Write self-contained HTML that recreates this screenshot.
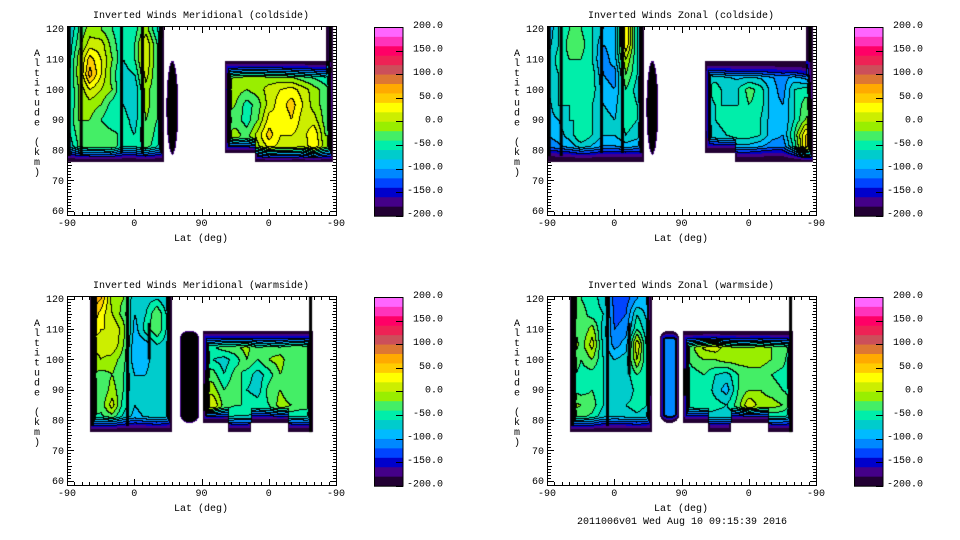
<!DOCTYPE html>
<html><head><meta charset="utf-8">
<style>
html,body{margin:0;padding:0;background:#fff;}
#wrap{position:relative;width:960px;height:540px;overflow:hidden;background:#fff;}
canvas{position:absolute;}
svg{position:absolute;left:0;top:0;}
text{font-family:"Liberation Mono",monospace;font-size:10px;fill:#000;}
</style></head>
<body>
<div id="wrap">
<svg id="svg" width="960" height="540"></svg>
</div>
<script>
// ---- data ----
const lats = [0,15,30,45,60,75,90,105,120,135,150,165,180,195,210,225,240,255,270,285,300,315,330,345,360];
const alts = [120,115,110,105,100,95,90,85,80];
const cbTicks = [200,150,100,50,0,-50,-100,-150,-200];
const cbColors = ["#220033","#440088","#0000cc","#0044ff","#0088ff","#00bbff","#00cccc","#00eeaa","#44ee66","#99ee00","#ccee00","#ffff00","#ffcc00","#ffaa00","#dd7733","#cc4f5a","#ee2255","#ff0066","#ff33bb","#ff66ff"];
const xTickLabels = ["-90","0","90","0","-90"];
const yTickLabels = [60,70,80,90,100,110,120];

const valsTL = [
[-90,-40,-10,-20,-40,-60,-50,-10,-60,-100,-100,-100,-100,-100,-100,-100,-100,-100,-100,-100,-100,-100,-100,-130,-130],
[-80,-30,10,10,-30,-60,-40,20,-40,-100,-100,-100,-100,-100,-100,-100,-100,-100,-100,-100,-100,-100,-100,-120,-120],
[-80,-10,50,20,-20,-60,-40,20,-40,-100,-100,-100,-100,-100,-60,-50,-40,-30,-30,-40,-50,-60,-70,-100,-120],
[-70,-10,70,20,-30,-70,-60,10,-40,-100,-100,-100,-100,-100,-40,-20,-10,-10,-20,-20,-30,-40,-50,-60,-80],
[-70,-20,20,0,-20,-70,-80,-10,-40,-100,-100,-100,-100,-100,10,-10,-20,-10,10,20,30,10,-10,-30,-50],
[-70,-20,-10,-20,-50,-60,-80,-10,-40,-100,-100,-100,-100,-100,-10,-20,-50,-30,10,30,50,20,-10,-30,-40],
[-60,-20,-20,-40,-60,-50,-70,-20,-40,-100,-100,-100,-100,-100,-20,-30,-50,-20,30,20,40,10,10,-30,-40],
[-70,-30,-20,-20,-30,-50,-60,-20,-50,-100,-100,-100,-100,-100,-30,-10,-30,10,50,20,20,10,40,-20,-20],
[-90,-40,-30,-30,-20,-60,-60,-30,-60,-100,-100,-100,-100,-100,-50,-40,-40,-10,20,10,10,0,40,-10,-20]];

const valsTR = [
[-100,-60,-40,-40,-60,-80,-90,40,-60,-100,-100,-100,-100,-100,-150,-150,-150,-150,-150,-150,-150,-150,-150,-150,-150],
[-90,-60,-30,-30,-60,-100,-90,40,-60,-100,-100,-100,-100,-100,-150,-150,-150,-150,-150,-150,-150,-150,-150,-150,-150],
[-80,-50,-40,-40,-60,-110,-90,0,-60,-100,-100,-100,-100,-100,-120,-120,-120,-120,-120,-120,-120,-130,-140,-150,-150],
[-80,-60,-40,-50,-50,-100,-110,-20,-60,-100,-100,-100,-100,-100,-60,-70,-80,-90,-90,-90,-100,-110,-100,-120,-120],
[-80,-60,-50,-40,-50,-90,-100,-40,-70,-100,-100,-100,-100,-100,-70,-50,-70,-60,-30,-50,-90,-110,-60,-50,-60],
[-90,-60,-60,-60,-60,-80,-90,-40,-60,-100,-100,-100,-100,-100,-70,-60,-60,-60,-40,-50,-90,-100,-60,-30,-20],
[-90,-80,-60,-60,-60,-70,-80,-50,-60,-100,-100,-100,-100,-100,-70,-60,-50,-60,-50,-60,-90,-100,-60,-20,0],
[-100,-90,-70,-40,-60,-80,-80,-60,-70,-100,-100,-100,-100,-100,-80,-70,-60,-50,-50,-60,-90,-100,-40,40,60],
[-120,-110,-100,-80,-90,-110,-110,-100,-110,-100,-100,-100,-100,-100,-110,-100,-110,-100,-100,-110,-120,-120,-60,40,40]];

const valsBL = [
[-100,-100,80,60,-10,-20,-80,-70,-60,-80,-100,-100,-100,-100,-100,-100,-100,-100,-100,-100,-100,-100,-100,-100,-100],
[-100,-100,70,30,0,-30,-80,-60,-20,-70,-100,-100,-100,-100,-100,-100,-100,-100,-100,-100,-100,-100,-100,-100,-100],
[-100,-100,40,20,20,-10,-90,-50,-20,-70,-100,-100,-60,-60,-60,-60,-60,-60,-60,-60,-60,-60,-60,-100,-100],
[-100,-100,10,10,20,-20,-100,-90,-60,-70,-100,-100,-40,-40,-20,-20,-10,-40,-30,-40,-20,-20,-50,-100,-100],
[-100,-100,-20,0,-10,-30,-100,-90,-60,-70,-100,-100,-40,-60,-70,-50,-20,-40,-20,-10,-40,-40,-40,-100,-100],
[-100,-100,-10,-30,-20,-40,-80,-80,-60,-70,-100,-100,-30,-30,-60,-30,-50,-70,-50,-20,-40,-30,-30,-100,-100],
[-100,-100,-30,-40,-10,-40,-80,-80,-60,-70,-100,-100,0,-10,-40,-20,-60,-70,-30,-20,-40,-40,-30,-100,-100],
[-100,-100,-20,-30,10,-50,-80,-70,-60,-70,-100,-100,20,20,-30,-40,-40,-50,-40,-10,-20,-30,-30,-100,-100],
[-100,-100,-50,-50,-40,-70,-90,-80,-70,-80,-100,-100,-60,-60,-60,-70,-70,-70,-70,-60,-70,-70,-60,-100,-100]];

const valsBR = [
[-100,-100,-40,-40,-50,-70,-130,-130,-100,-90,-100,-100,-100,-100,-100,-100,-100,-100,-100,-100,-100,-100,-100,-100,-100],
[-100,-100,-20,-30,-50,-60,-130,-120,-60,-90,-100,-100,-100,-100,-100,-100,-100,-100,-100,-100,-100,-100,-100,-100,-100],
[-100,-100,0,-40,-10,-70,-120,-110,-40,-80,-100,-100,-90,-90,-90,-90,-90,-90,-90,-90,-90,-90,-90,-100,-100],
[-100,-100,10,-30,10,-70,-110,-90,20,-80,-100,-100,-50,-20,10,20,-10,-20,-20,-10,-20,-30,-40,-100,-100],
[-100,-100,-10,-40,-20,-60,-80,-70,0,-70,-100,-100,-50,-30,-20,-20,-10,-10,-10,-10,-20,-30,-70,-100,-100],
[-100,-100,-30,-50,-50,-60,-70,-70,-40,-60,-100,-100,-60,-50,-40,-60,-70,-40,-30,-30,-40,-50,-60,-100,-100],
[-100,-100,-40,-50,-40,-60,-70,-80,-50,-60,-100,-100,-60,-50,-40,-70,-90,-40,-20,-20,-30,-40,-50,-100,-100],
[-100,-100,-10,-20,-30,-60,-70,-60,-50,-60,-100,-100,-60,-50,-40,-50,-60,-30,20,-10,-10,-20,-50,-100,-100],
[-100,-100,-40,-40,-50,-80,-80,-80,-70,-80,-100,-100,-80,-80,-80,-80,-80,-80,-70,-70,-70,-70,-80,-100,-100]];

// region shapes (u = axis units 0..360, alt km)
const coldShapes = [
 {t:"rect",u0:-10,u1:130,a0:76,a1:125},
 {t:"ell",u0:133,u1:149,a0:78.5,a1:109.5,black:true},
 {t:"rect",u0:211,u1:251,a0:79,a1:109.5},
 {t:"rect",u0:251,u1:356,a0:76,a1:109.5},
 {t:"rect",u0:346,u1:356,a0:76,a1:125}];
const warmShapesBL = [
 {t:"rect",u0:31,u1:140,a0:76,a1:125},
 {t:"rrect",u0:151,u1:177,a0:79,a1:109.5,black:true},
 {t:"rect",u0:182,u1:216,a0:79,a1:109.5},
 {t:"rect",u0:216,u1:246,a0:76,a1:109.5},
 {t:"rect",u0:246,u1:296,a0:79,a1:109.5},
 {t:"rect",u0:296,u1:329,a0:76,a1:109.5}];
const warmShapesBR = [
 {t:"rect",u0:31,u1:140,a0:76,a1:125},
 {t:"rrect",u0:151,u1:177,a0:79,a1:109.5,fill:-120},
 {t:"rect",u0:182,u1:216,a0:79,a1:109.5},
 {t:"rect",u0:216,u1:246,a0:76,a1:109.5},
 {t:"rect",u0:246,u1:296,a0:79,a1:109.5},
 {t:"rect",u0:296,u1:329,a0:76,a1:109.5}];
const seamsCold = [{u:3,a0:78,a1:125},{u:19,a0:78,a1:125},{u:73,a0:79,a1:125},{u:101,a0:79,a1:125},{u:126,a0:79,a1:125},{u:352,a0:109,a1:125}];
const seamsBL = [{u:34,a0:78,a1:125},{u:81,a0:78,a1:125},{u:110,a0:100,a1:112},{u:136,a0:82,a1:125},{u:184,a0:83,a1:92},{u:326,a0:76,a1:125}];
const seamsBR = [{u:34,a0:78,a1:125},{u:81,a0:78,a1:125},{u:110,a0:95,a1:112},{u:137,a0:88,a1:103},{u:184,a0:88,a1:97},{u:326,a0:76,a1:125}];

const panels = [
 {name:"meridional-coldside",title:"Inverted Winds Meridional (coldside)",L:67,T:26,vals:valsTL,shapes:coldShapes,seams:seamsCold},
 {name:"zonal-coldside",title:"Inverted Winds Zonal (coldside)",L:547,T:26,vals:valsTR,shapes:coldShapes,seams:seamsCold},
 {name:"meridional-warmside",title:"Inverted Winds Meridional (warmside)",L:67,T:296,vals:valsBL,shapes:warmShapesBL,seams:seamsBL},
 {name:"zonal-warmside",title:"Inverted Winds Zonal (warmside)",L:547,T:296,vals:valsBR,shapes:warmShapesBR,seams:seamsBR}];

// ---- axis functions ----
const W=269, H=189, KM=3.033;
function xU(p,u){return p.L + u*W/360;}
function yA(p,a){return p.T + 2.7 + (120-a)*KM;}
function uX(p,x){return (x-p.L)*360/W;}
function aY(p,y){return 120-(y-p.T-2.7)/KM;}

function hex(c){return [parseInt(c.substr(1,2),16),parseInt(c.substr(3,2),16),parseInt(c.substr(5,2),16)];}
const rgb = cbColors.map(hex);

function sample(vals,u,a){
  let fi=Math.max(0,Math.min(lats.length-1.001,u/15));
  let aa=Math.max(80,Math.min(120,a));
  let fj=Math.min(alts.length-1.001,(120-aa)/5);
  let i=Math.floor(fi),j=Math.floor(fj),di=fi-i,dj=fj-j;
  const v00=vals[j][i],v10=vals[j][i+1],v01=vals[j+1][i],v11=vals[j+1][i+1];
  return v00*(1-di)*(1-dj)+v10*di*(1-dj)+v01*(1-di)*dj+v11*di*dj;
}
function inShape(p,s,x,y){
  const x0=xU(p,s.u0),x1=xU(p,s.u1),y0=yA(p,s.a1),y1=yA(p,s.a0);
  if(s.t==="rect")return x>=x0&&x<=x1&&y>=y0&&y<=y1;
  const cx=(x0+x1)/2,cy=(y0+y1)/2,rx=(x1-x0)/2,ry=(y1-y0)/2;
  if(s.t==="ell")return ((x-cx)/rx)**2+((y-cy)/ry)**2<=1;
  const r=Math.min(rx,9);
  const qx=Math.abs(x-cx)-(rx-r),qy=Math.abs(y-cy)-(ry-r);
  return Math.hypot(Math.max(qx,0),Math.max(qy,0))+Math.min(Math.max(qx,qy),0)-r<=0;
}
const FX=6, FY=16;

function renderPanel(p){
  const cv=document.createElement("canvas");
  
  
  const cw=W-1,ch=H-1;
  cv.width=cw;cv.height=ch;cv.style.left=(p.L+1)+"px";cv.style.top=(p.T+1)+"px";
  document.getElementById("wrap").appendChild(cv);
  const ctx=cv.getContext("2d");
  const img=ctx.createImageData(cw,ch);
  const sid=new Int8Array(cw*ch).fill(-1);
  for(let j=0;j<ch;j++)for(let i=0;i<cw;i++){
    const x=p.L+1+i+0.5,y=p.T+1+j+0.5;
    for(let s=0;s<p.shapes.length;s++){if(inShape(p,p.shapes[s],x,y)){sid[j*cw+i]=s;break;}}
  }
  const isIn=(i,j)=> (i<0||j<0||i>=cw||j>=ch)?true:sid[j*cw+i]>=0;
  const band=new Int16Array(cw*ch).fill(-1);
  for(let j=0;j<ch;j++)for(let i=0;i<cw;i++){
    const k=j*cw+i,s=sid[k];if(s<0)continue;
    const sh=p.shapes[s];
    let dx=FX;for(let q=1;q<=FX;q++){if(!isIn(i-q,j)||!isIn(i+q,j)){dx=q-0.5;break;}}
    let dy=FY;for(let q=1;q<=FY;q++){if(!isIn(i,j-q)||!isIn(i,j+q)){dy=q-0.5;break;}}
    if(sh.black){ band[k]= (Math.min(dx,dy)>1.0)?-2:1; continue; }
    const x=p.L+1+i+0.5,y=p.T+1+j+0.5;
    let v = sh.fill!==undefined? sh.fill : sample(p.vals,uX(p,x),aY(p,y));
    let t;
    if(sh.fill!==undefined) t=Math.min(1,dx/4,dy/7);
    else t=Math.min(1,dx/FX,dy/FY);
    v=-215+(v+215)*t;
    band[k]=Math.max(0,Math.min(19,Math.floor((v+200)/20)));
  }
  for(let j=0;j<ch;j++)for(let i=0;i<cw;i++){
    const k=j*cw+i,b=band[k];if(b===-1)continue;
    let c;
    if(b===-2)c=[0,0,0];
    else{
      const l=i>0?band[k-1]:-1,u=j>0?band[k-cw]:-1;
      const lineL=l>=0&&l!==b&&Math.max(l,b)>=3;
      const lineU=u>=0&&u!==b&&Math.max(u,b)>=3;
      if(lineL||lineU)c=[0,0,0];else c=rgb[b];
    }
    const o=k*4;img.data[o]=c[0];img.data[o+1]=c[1];img.data[o+2]=c[2];img.data[o+3]=255;
  }
  ctx.putImageData(img,0,0);
  ctx.fillStyle="#000";
  for(const s of p.seams){
    const x=xU(p,s.u)-p.L-1,y0=Math.max(0,yA(p,Math.min(s.a1,121))-p.T-1),y1=yA(p,s.a0)-p.T-1;
    ctx.fillRect(x-1.5,y0,3,y1-y0);
  }
}

const NS="http://www.w3.org/2000/svg";
const svg=document.getElementById("svg");
function el(tag,attrs,parent,txt){const e=document.createElementNS(NS,tag);for(const k in attrs)e.setAttribute(k,attrs[k]);if(txt!==undefined)e.textContent=txt;(parent||svg).appendChild(e);return e;}

panels.forEach(p=>{
  renderPanel(p);
  const g=el("g",{});
  
  
  const t=el("text",{x:p.L+134,y:p.T-8,"text-anchor":"middle"},g,p.title);
  
  
  const fr=el("rect",{x:p.L+0.5,y:p.T+0.5,width:W,height:H,fill:"none",stroke:"#000","stroke-width":1},g);
  
  
  let d="";
  for(let a=60;a<=120;a++){
    const y=Math.round(yA(p,a))+0.5, len=a%10===0?6:(a%5===0?4:3);
    d+=`M${p.L+1} ${y}h${len}M${p.L+W} ${y}h${-len}`;
  }
  for(let u=0;u<=360;u+=10){
    const x=Math.round(xU(p,u))+0.5, len=u%90===0?6:3;
    d+=`M${x} ${p.T+H}v${-len}M${x} ${p.T+1}v${len}`;
  }
  const tk=el("path",{d:d,stroke:"#000","stroke-width":1,fill:"none"},g);
  
  
  yTickLabels.forEach(a=>{
    const lb=el("text",{x:p.L-3,y:yA(p,a)+3.5,"text-anchor":"end"},g,String(a));
    
    
  });
  xTickLabels.forEach((s,i)=>{
    const lb=el("text",{x:xU(p,i*90),y:p.T+H+11,"text-anchor":"middle"},g,s);
    
    
  });
  const xt=el("text",{x:p.L+134,y:p.T+H+26,"text-anchor":"middle"},g,"Lat (deg)");
  
  
  const yt=el("g",{},g);
  
  
  "Altitude (km)".split("").forEach((c,i)=>{
    if(c!==" "){el("text",{x:p.L-30,y:p.T+30+i*9.9,"text-anchor":"middle"},yt,c);}
  });
  const cbX=p.L+307, cbT=p.T+1, cbH=188.7;
  const cb=el("g",{},g);
  
  
  cbColors.forEach((c,i)=>{
    const r=el("rect",{x:cbX,y:cbT+cbH-(i+1)*cbH/20,width:29,height:cbH/20+0.4,fill:c},cb);
    
    
  });
  el("rect",{x:cbX+0.5,y:cbT+0.5,width:28.5,height:cbH,fill:"none",stroke:"#000"},cb);
  let cd="";
  cbTicks.forEach(v=>{
    const y=cbT+(200-v)*cbH/400;
    cd+=`M${cbX+22} ${Math.round(y)+0.5}h7`;
    const lb=el("text",{x:cbX+69,y:y+1,"text-anchor":"end"},cb,v.toFixed(1));
    
    
  });
  el("path",{d:cd,stroke:"#000"},cb);
});
const ft=el("text",{x:682,y:524,"text-anchor":"middle"},svg,"2011006v01 Wed Aug 10 09:15:39 2016");


</script>
</body></html>
